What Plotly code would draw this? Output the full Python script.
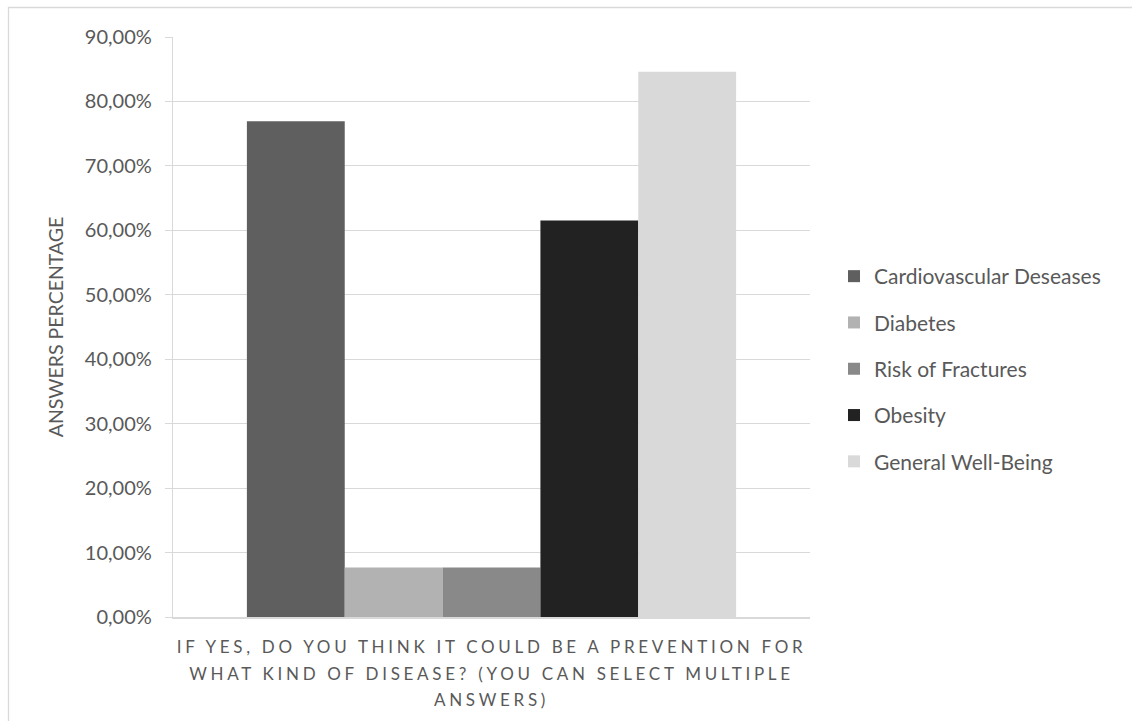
import plotly.graph_objects as go

category = ["IF YES, DO YOU THINK IT COULD BE A PREVENTION FOR<br>WHAT KIND OF DISEASE? (YOU CAN SELECT MULTIPLE<br>ANSWERS)"]
series_names = ["Cardiovascular Deseases", "Diabetes", "Risk of Fractures", "Obesity", "General Well-Being"]
series_values = [0.7692, 0.0769, 0.0769, 0.6154, 0.8462]
series_colors = ["#5f5f5f", "#b2b2b2", "#898989", "#222222", "#d9d9d9"]
y_tick_values = [0, 0.1, 0.2, 0.3, 0.4, 0.5, 0.6, 0.7, 0.8, 0.9]
y_title = "ANSWERS PERCENTAGE"

FONT = "Lato, 'Open Sans', sans-serif"
TXT = "#595959"
GRID = "#d9d9d9"

fig = go.Figure()
for i, (name, val, col) in enumerate(zip(series_names, series_values, series_colors)):
    fig.add_trace(go.Bar(
        x=category, y=[val], name=name, marker=dict(color=col, line=dict(width=0)),
        legendgroup=f"g{i}",
    ))

W, H = 1132, 721
L, R, T, B = 173, 322, 37, 104
pw, ph = W - L - R, H - T - B

def px2x(px):
    return (px - L) / pw

def py2y(py):
    return (H - B - py) / ph

fig.update_layout(
    width=W, height=H,
    margin=dict(l=L, r=R, t=T, b=B, autoexpand=False),
    paper_bgcolor="white", plot_bgcolor="white",
    barmode="group", bargap=0.232, bargroupgap=0,
    separators=",.",
    font=dict(family=FONT, color=TXT),
    showlegend=True,
    legend=dict(
        x=px2x(834), y=py2y(369), xanchor="left", yanchor="middle",
        font=dict(family=FONT, size=21, color=TXT),
        tracegroupgap=16, traceorder="grouped",
        bgcolor="rgba(0,0,0,0)",
    ),
    xaxis=dict(
        showline=True, linecolor=GRID, linewidth=1.5,
        ticks="", showgrid=False,
        tickfont=dict(family=FONT, size=17, color=TXT),
        ticklabelstandoff=14,
    ),
    yaxis=dict(
        range=[0, 0.9], tickvals=y_tick_values, tickformat=".2%",
        showgrid=True, gridcolor=GRID, gridwidth=1.3,
        showline=True, linecolor=GRID, linewidth=1.3,
        ticks="outside", ticklen=7, tickcolor=GRID, tickwidth=1.3,
        tickfont=dict(family=FONT, size=20, color=TXT),
        ticklabelstandoff=9,
        zeroline=False,
        title=dict(text=y_title, font=dict(family=FONT, size=19.5, color=TXT), standoff=16),
    ),
    shapes=[dict(
        type="rect", xref="paper", yref="paper",
        x0=px2x(8.5), x1=px2x(1145), y0=py2y(735), y1=py2y(7.5),
        line=dict(color=GRID, width=1.3), fillcolor="rgba(0,0,0,0)", layer="below",
    )],
)

post = """
document.documentElement.style.margin = '0';
document.body.style.margin = '0';
document.body.style.overflow = 'hidden';
var gd = document.getElementById('{plot_id}');
function fixLabels(){
  gd.querySelectorAll('.xtick text').forEach(function(t){
    t.style.letterSpacing = '3.7px';
    t.querySelectorAll('tspan.line').forEach(function(s){
      var dy = s.getAttribute('dy');
      if (dy) {
        var v = parseFloat(dy);
        if (!isNaN(v) && v > 0) { s.setAttribute('dy', (v * 1.55 / 1.3) + 'em'); }
      }
    });
  });
}
fixLabels();
"""

fig.write_html("out.html", post_script=post, config={"displayModeBar": False})
